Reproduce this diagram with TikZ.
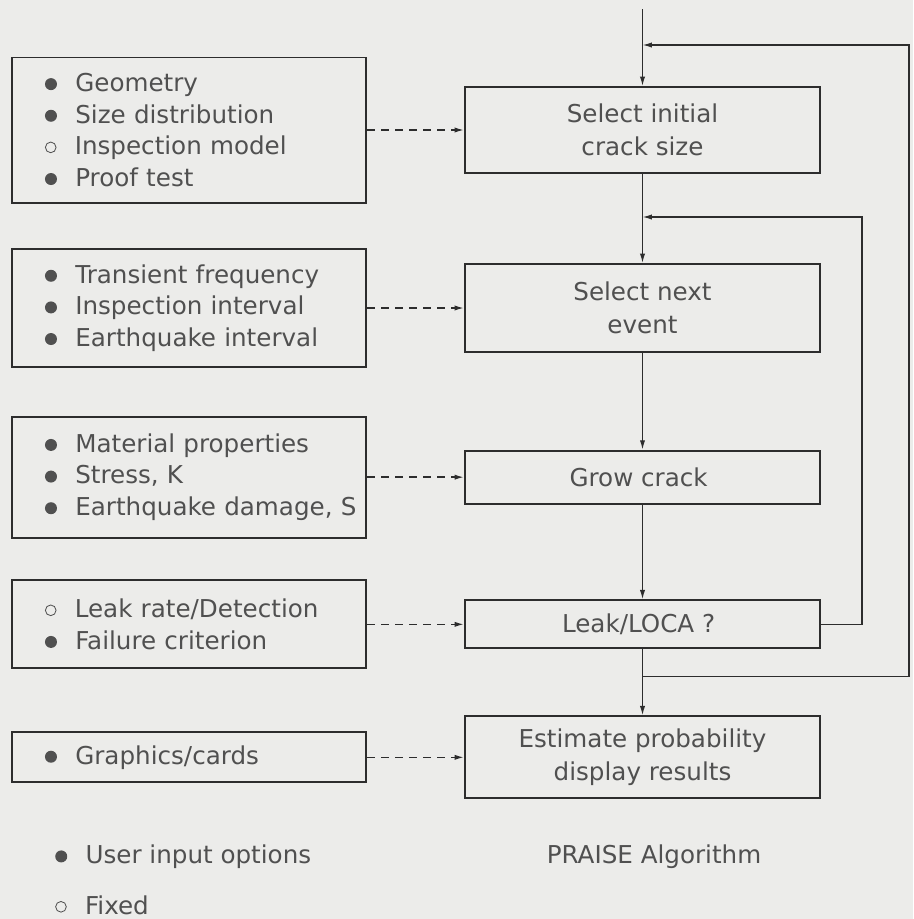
\documentclass[tikz,border=0pt]{standalone}
\usepackage{fontspec}
\setmainfont{DejaVu Sans}
\usetikzlibrary{positioning,arrows.meta}
\definecolor{paper}{RGB}{236,236,234}
\definecolor{ink}{RGB}{45,45,45}
\definecolor{inktext}{RGB}{80,80,80}
\newcommand{\userpt}{\hspace*{0.93cm}\tikz[baseline=-0.3em]\fill[inktext] (0,0) circle (0.18cm);\hspace{0.55cm}}
\newcommand{\fixedpt}{\hspace*{0.93cm}\tikz[baseline=-0.3em]\draw[inktext,line width=0.7pt] (0,0) circle (0.16cm);\hspace{0.55cm}}
\tikzset{
  stepbox/.style={draw=ink, line width=1.7pt, minimum width=10.65cm,
    align=center, text=inktext, font=\fontsize{21}{28}\selectfont},
  inbox/.style={draw=ink, line width=1.7pt, minimum width=10.62cm, inner xsep=0pt,
    text width=10.5cm, align=left, text=inktext, font=\fontsize{21}{27}\selectfont},
  flow/.style={-{Latex[length=8pt,width=4.5pt]}, line width=1.1pt, draw=ink},
  feed/.style={-{Latex[length=8pt,width=4.5pt]}, line width=1.3pt, draw=ink, dash pattern=on 7pt off 5pt},
  keytext/.style={text=inktext, font=\fontsize{21}{27}\selectfont, inner sep=0pt},
}

\begin{document}
\begin{tikzpicture}[x=0.03cm, y=-0.03cm]
\fill[paper] (0,0) rectangle (913,919);
\useasboundingbox (0,0) rectangle (913,919);

% Algorithm steps
\node [stepbox,
	minimum height=2.58cm
]  (sel) at (642.5,130) {
Select initial\\crack size
};
\node [stepbox,
	minimum height=2.64cm,
	below = 2.67cm of sel
]  (nxt) {
Select next\\event
};
\node [stepbox,
	minimum height=1.59cm,
	below = 2.9cm of nxt
]  (grow) {
Grow crack
};
\node [stepbox,
	minimum height=1.44cm,
	below = 2.84cm of grow
]  (leak) {
Leak/LOCA ?
};
\node [stepbox,
	minimum height=2.46cm,
	below = 1.98cm of leak
]  (est) {
Estimate probability\\display results
};

% Inputs
\node [inbox,
	minimum height=4.35cm,
	left = 2.91cm of sel
]  (crackin) {
\userpt Geometry\\
\userpt Size distribution\\
\fixedpt Inspection model\\
\userpt Proof test
};
\node [inbox,
	minimum height=3.54cm,
	left = 2.91cm of nxt
]  (eventin) {
\userpt Transient frequency\\
\userpt Inspection interval\\
\userpt Earthquake interval
};
\node [inbox,
	minimum height=3.63cm,
	left = 2.91cm of grow
]  (growin) {
\userpt Material properties\\
\userpt Stress, K\\
\userpt Earthquake damage, S
};
\node [inbox,
	minimum height=2.64cm,
	left = 2.91cm of leak
]  (leakin) {
\fixedpt Leak rate/Detection\\
\userpt Failure criterion
};
\node [inbox,
	minimum height=1.5cm,
	left = 2.91cm of est
]  (estin) {
\userpt Graphics/cards
};

% Key and title
\node [keytext, anchor=west] (keyuser) at (24,857) {\userpt User input options};
\node [keytext, anchor=west] (keyfix) at (24,905) {\fixedpt Fixed};
\node [keytext] (title) at (654,857) {PRAISE Algorithm};

% Main flow
\coordinate [above = 2.31cm of sel.north] (start);
\coordinate [below = 0.81cm of leak.south] (obr);
\coordinate (ocorner) at (909,45);
\coordinate (icorner) at (862,217);

\draw[flow] (start) -- (sel.north);
\draw[flow] (sel.south) -- (nxt.north);
\draw[flow] (nxt.south) -- (grow.north);
\draw[flow] (grow.south) -- (leak.north);
\draw[flow] (leak.south) -- (est.north);

% Loops
\draw[flow] (leak.east) -| (icorner) -- (icorner -| sel.south);
\draw[flow] (obr) -| (ocorner) -- (ocorner -| sel.north);

% Input arrows
\draw[feed] (crackin.east) -- (sel.west);
\draw[feed] (eventin.east) -- (nxt.west);
\draw[feed] (growin.east) -- (grow.west);
\draw[feed] (leakin.east) -- (leak.west);
\draw[feed] (estin.east) -- (est.west);

\end{tikzpicture}
\end{document}
